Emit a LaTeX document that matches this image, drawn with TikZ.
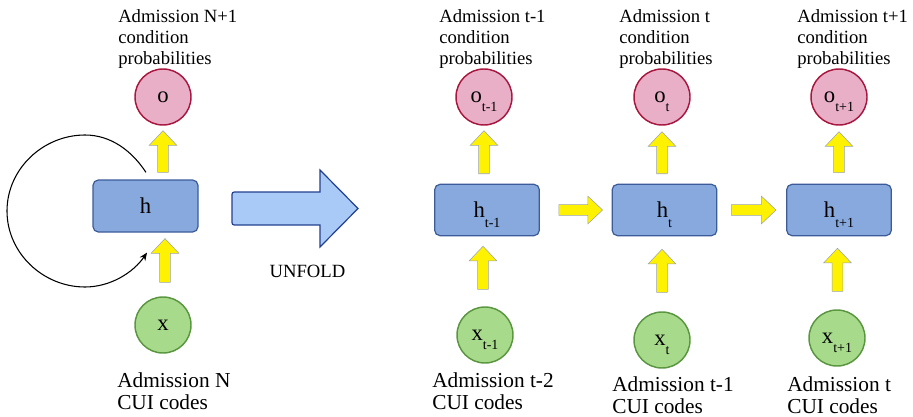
\documentclass[tikz,border=0pt]{standalone}
\usepackage{fontspec}
\setmainfont{Liberation Serif}
\usetikzlibrary{calc,arrows.meta}
\definecolor{pinkfill}{HTML}{E8AFC7}
\definecolor{pinkline}{HTML}{A8173F}
\definecolor{greenfill}{HTML}{A8DA8B}
\definecolor{greenline}{HTML}{5A9640}
\definecolor{bluefill}{HTML}{87A9DD}
\definecolor{blueline}{HTML}{3B5C99}
\definecolor{bigfill}{HTML}{A9C9F6}
\definecolor{bigline}{HTML}{23418F}
\definecolor{arryellow}{HTML}{FFF200}
\definecolor{arredge}{HTML}{9AA3B5}
\newcommand\lowsub[1]{\raisebox{-7pt}[0pt][0pt]{\fontsize{10.5}{11}\selectfont #1}}
\def\fasw{4pt}\def\fahw{10.4pt}\def\fahl{11pt}
\newcommand\fatarr[2]{%
  \path ($(#2)!\fahl!(#1)$) coordinate (fac);
  \filldraw[fatarrow] ($(#1)!\fasw!90:(#2)$) -- ($(fac)!\fasw!90:(#2)$) -- ($(fac)!\fahw!90:(#2)$) -- (#2) -- ($(fac)!\fahw!-90:(#2)$) -- ($(fac)!\fasw!-90:(#2)$) -- ($(#1)!\fasw!-90:(#2)$) -- cycle;}
\begin{document}
\begin{tikzpicture}[x=0.75pt,y=-0.75pt,
  outcirc/.style={circle, draw=pinkline, fill=pinkfill, line width=1.1pt, minimum size=42pt, inner sep=0pt, font=\fontsize{17}{18}\selectfont},
  incirc/.style={circle, draw=greenline, fill=greenfill, line width=1.1pt, minimum size=42pt, inner sep=0pt, font=\fontsize{17}{18}\selectfont},
  hidden/.style={rectangle, rounded corners=4pt, draw=blueline, fill=bluefill, line width=0.9pt, minimum width=78.5pt, minimum height=38.5pt, inner sep=0pt, font=\fontsize{17}{18}\selectfont},
  toplabel/.style={anchor=north west, inner sep=0pt, align=left, font=\fontsize{14}{15.5}\selectfont},
  botlabel/.style={anchor=north west, inner sep=0pt, align=left, font=\fontsize{16}{16.5}\selectfont},
  fatarrow/.style={fill=arryellow, draw=arredge, line width=0.4pt, line join=miter},
  bigarrow/.style={fill=bigfill, draw=bigline, line width=0.9pt, line join=miter},
  loopline/.style={draw=black, line width=0.8pt, -{Stealth[length=6pt,width=5pt]}}
]
\useasboundingbox (0,0) rectangle (913,417);
% ---------- left (folded) ----------
\node[toplabel] (tL) at (118,9.5) {Admission N+1\\condition\\probabilities};
\node[outcirc] (oL) at (163,97) {o};
\node[hidden, minimum width=78.75pt, minimum height=39pt] (hL) at (145.5,206) {h};
\node[incirc] (xL) at (163,325) {x};
\node[botlabel] (bL) at (117,372) {Admission N\\CUI codes};
\coordinate (ua0) at ($(hL.north -| oL.south)+(0,-7)$);
\coordinate (ub0) at ($(oL.south)+(0,5)$);
\fatarr{ua0}{ub0}
\coordinate (la0) at ($(xL.north)+(2,-14)$);
\coordinate (lb0) at ($(hL.south -| xL.north)+(2,6)$);
\fatarr{la0}{lb0}
\coordinate (ls) at ($(hL.north)+(0.5,-7)$);
\coordinate (le) at ($(hL.south)+(1.5,20)$);
\draw[loopline] (ls) .. controls (132,151) and (111,135) .. (85,135) .. controls (43,135) and (7,169) .. (7,211) .. controls (7,253) and (43,287) .. (85,287) .. controls (110,287) and (133,273) .. (le);
% ---------- unfold arrow ----------
\filldraw[bigarrow] (320,192) -- (320,170) -- (358,208.5) -- (320,247) -- (320,225) -- (237,225) .. controls (232,225) .. (232,220) -- (232,197) .. controls (232,192) .. (237,192) -- cycle;
\node[inner sep=0pt, font=\fontsize{14}{15.5}\selectfont] (unf) at (307.5,271.5) {UNFOLD};
% ---------- right (unfolded) ----------
\node[toplabel] (t1) at (439,9.5) {Admission t-1\\condition\\probabilities};
\node[toplabel] (t2) at (619,9.5) {Admission t\\condition\\probabilities};
\node[toplabel] (t3) at (797,9.5) {Admission t+1\\condition\\probabilities};
\node[outcirc] (o1) at (484,97) {o\lowsub{t-1}};
\node[outcirc] (o2) at (662,97) {o\lowsub{t}};
\node[outcirc] (o3) at (839,97) {o\lowsub{t+1}};
\node[hidden] (h1) at (487,210) {h\lowsub{t-1}};
\node[hidden] (h2) at (664.5,210) {h\lowsub{t}};
\node[hidden] (h3) at (839,210) {h\lowsub{t+1}};
\node[incirc] (x1) at (485,335) {x\lowsub{t-1}};
\node[incirc] (x2) at (662,340) {x\lowsub{t}};
\node[incirc] (x3) at (837,338) {x\lowsub{t+1}};
\node[botlabel] (b1) at (432,372) {Admission t-2\\CUI codes};
\node[botlabel] (b2) at (612,376) {Admission t-1\\CUI codes};
\node[botlabel] (b3) at (787,376) {Admission t\\CUI codes};
% up arrows h -> o
\coordinate (ua1) at ($(h1.north -| o1.south)+(0,-10)$);
\coordinate (ub1) at ($(o1.south)+(0,5)$);
\fatarr{ua1}{ub1}
\coordinate (ua2) at ($(h2.north -| o2.south)+(0,-10)$);
\coordinate (ub2) at ($(o2.south)+(0,6)$);
\fatarr{ua2}{ub2}
\coordinate (ua3) at ($(h3.north -| o3.south)+(0,-11)$);
\coordinate (ub3) at ($(o3.south)+(0,6)$);
\fatarr{ua3}{ub3}
% up arrows x -> h
\coordinate (la1) at ($(x1.north)+(-2,-17)$);
\coordinate (lb1) at ($(h1.south -| x1.north)+(-2,10)$);
\fatarr{la1}{lb1}
\coordinate (la2) at ($(x2.north)+(0,-19)$);
\coordinate (lb2) at ($(h2.south -| x2.north)+(0,13)$);
\fatarr{la2}{lb2}
\coordinate (la3) at ($(x3.north)+(0.5,-18)$);
\coordinate (lb3) at ($(h3.south -| x3.north)+(0.5,12)$);
\fatarr{la3}{lb3}
% horizontal arrows h -> h
\coordinate (ra1) at ($(h1.east)+(19,0)$);
\coordinate (rb1) at ($(h2.west)+(-9,0)$);
\fatarr{ra1}{rb1}
\coordinate (ra2) at ($(h2.east)+(14,0)$);
\coordinate (rb2) at ($(h3.west)+(-10,0)$);
\fatarr{ra2}{rb2}
\end{tikzpicture}
\end{document}
